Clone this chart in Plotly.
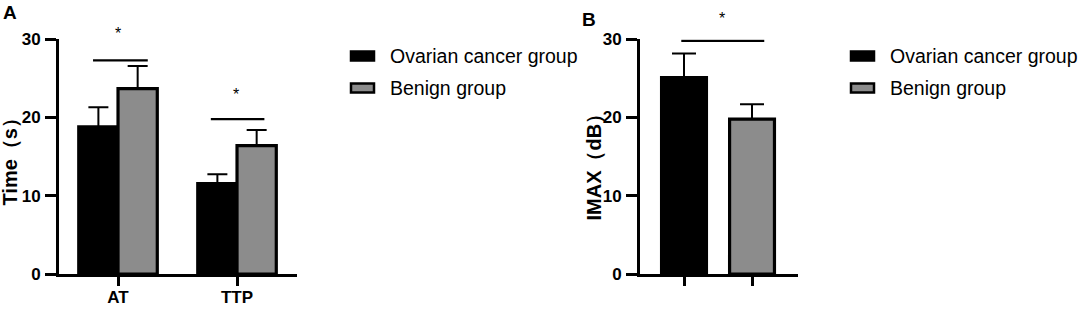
import plotly.graph_objects as go

# ---- data ----
groups = ["Ovarian cancer group", "Benign group"]
colors = ["#000000", "#8c8c8c"]

a_categories = ["AT", "TTP"]
a_means = {"Ovarian cancer group": [18.8, 11.55], "Benign group": [23.7, 16.4]}
a_err = {"Ovarian cancer group": [2.5, 1.2], "Benign group": [2.9, 2.0]}
a_title = "Time（s）"

b_categories = ["Ovarian", "Benign"]
b_means = {"Ovarian cancer group": 25.1, "Benign group": 19.8}
b_err = {"Ovarian cancer group": 3.1, "Benign group": 1.9}
b_title = "IMAX（dB）"

# significance brackets: (x0, x1, y line, star x, star y)
a_sig = [(-0.21, 0.25, 27.3, 0.0, 30.7), (0.78, 1.23, 19.8, 0.99, 22.9)]
b_sig = [(-0.04, 1.18, 29.8, 0.56, 32.6)]

FONT = "Arial, Liberation Sans, sans-serif"
W, H = 1080, 310
Y_DOM = [36 / H, 270.7 / H]
Y_MAX = 30


def ypaper(v):
    return Y_DOM[0] + v / Y_MAX * (Y_DOM[1] - Y_DOM[0])


fig = go.Figure()

# Panel A bars
offsets = [-0.33, 0.0]
for g, c, off in zip(groups, colors, offsets):
    fig.add_trace(go.Bar(
        x=a_categories, y=a_means[g], name=g, showlegend=False,
        marker=dict(color=c, line=dict(color="black", width=3.2)),
        width=0.33, offset=off,
        error_y=dict(type="data", array=a_err[g], arrayminus=[0] * len(a_err[g]),
                     symmetric=False, color="black", thickness=2, width=10),
        xaxis="x", yaxis="y",
    ))

# Panel B bars
for g, c, cat in zip(groups, colors, b_categories):
    fig.add_trace(go.Bar(
        x=[cat], y=[b_means[g]], name=g, showlegend=False,
        marker=dict(color=c, line=dict(color="black", width=3.2)),
        width=0.66, offset=-0.33,
        error_y=dict(type="data", array=[b_err[g]], arrayminus=[0],
                     symmetric=False, color="black", thickness=2, width=12),
        xaxis="x2", yaxis="y2",
    ))

shapes = []
annotations = []
for xa, ya, sigs in (("x", "y", a_sig), ("x2", "y2", b_sig)):
    for (x0, x1, yl, sx, sy) in sigs:
        shapes.append(dict(type="line", xref=xa, yref=ya, x0=x0, x1=x1, y0=yl, y1=yl,
                           line=dict(color="black", width=2.2)))
        annotations.append(dict(xref=xa, yref="paper", x=sx, y=ypaper(sy), text="*",
                                showarrow=False, yanchor="middle",
                                font=dict(size=16, color="black", family=FONT)))

# panel letters
annotations.append(dict(xref="paper", yref="paper", x=1 / W, y=1 - 0 / H, xanchor="left",
                        yanchor="top", text="<b>A</b>", showarrow=False,
                        font=dict(size=19, color="black", family=FONT)))
annotations.append(dict(xref="paper", yref="paper", x=580 / W, y=1 - 7 / H, xanchor="left",
                        yanchor="top", text="<b>B</b>", showarrow=False,
                        font=dict(size=19, color="black", family=FONT)))

# y-axis titles
for txt, tx, ty in ((a_title, 9, 157.5), (b_title, 593, 162.5)):
    annotations.append(dict(xref="paper", yref="paper", x=tx / W, y=1 - ty / H,
                            xanchor="center", yanchor="middle", textangle=-90,
                            text="<b>" + txt + "</b>", showarrow=False,
                            font=dict(size=20, color="black", family=FONT)))

# legends (drawn as keys + text)
legend_rows_y = [56, 88]
for lx in (350, 850):
    for g, c, ry in zip(groups, colors, legend_rows_y):
        shapes.append(dict(type="rect", xref="paper", yref="paper",
                           x0=(lx + 1) / W, x1=(lx + 24) / W,
                           y0=1 - (ry + 4.5) / H, y1=1 - (ry - 4.5) / H,
                           fillcolor=c, line=dict(color="black", width=2.5)))
        annotations.append(dict(xref="paper", yref="paper", x=(lx + 38) / W, y=1 - ry / H,
                                xanchor="left", yanchor="middle", text=g, showarrow=False,
                                font=dict(size=19.5, color="black", family=FONT)))

yax_common = dict(range=[0, Y_MAX], tickvals=[0, 10, 20, 30], showline=True, linecolor="black",
                  linewidth=3, ticks="outside", ticklen=11, tickwidth=3, tickcolor="black",
                  showgrid=False, zeroline=False, automargin=False,
                  tickfont=dict(size=17, color="black", family=FONT, weight="bold"),
                  ticklabelstandoff=1)
xax_common = dict(showline=True, linecolor="black", linewidth=3, ticks="outside",
                  ticklen=9, tickwidth=2.5, tickcolor="black", showgrid=False,
                  zeroline=False, automargin=False, type="category")

fig.update_layout(
    width=W, height=H, margin=dict(l=0, r=0, t=0, b=0),
    paper_bgcolor="white", plot_bgcolor="white",
    font=dict(family=FONT, color="black"),
    barmode="group", showlegend=False,
    xaxis=dict(domain=[59 / W, 297 / W], range=[-0.496, 1.504],
               tickfont=dict(size=17, color="black", family=FONT, weight="bold"),
               ticklabelstandoff=-3, anchor="y", **xax_common),
    yaxis=dict(domain=Y_DOM, anchor="x", **yax_common),
    xaxis2=dict(domain=[640 / W, 798 / W], range=[-0.647, 1.676], showticklabels=False,
                anchor="y2", **xax_common),
    yaxis2=dict(domain=Y_DOM, anchor="x2", **yax_common),
    shapes=shapes, annotations=annotations,
)

fig.write_html("out.html", config={"displayModeBar": False},
               post_script="document.body.style.margin='0';")
